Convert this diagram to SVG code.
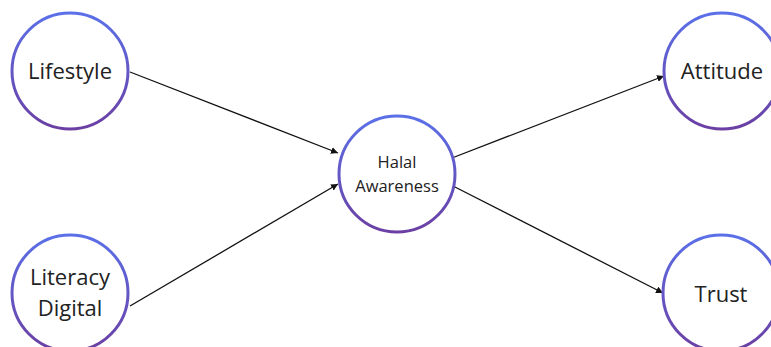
<svg xmlns="http://www.w3.org/2000/svg" width="771" height="347" viewBox="0 0 771 347">
<defs>
<linearGradient id="g" x1="0" y1="0" x2="0" y2="1">
<stop offset="0" stop-color="#5b70e8"/>
<stop offset="1" stop-color="#6b3fa3"/>
</linearGradient>
<marker id="ah" viewBox="0 0 10 10" refX="10" refY="5" markerWidth="7" markerHeight="7" markerUnits="userSpaceOnUse" orient="auto">
<path d="M0,0 L10,5 L0,10 z" fill="#111"/>
</marker>
<style>
.n{fill:#fff;stroke:url(#g);stroke-width:3}
.t{font-family:"Open Sans","Noto Sans",sans-serif;fill:#222;text-anchor:middle}
.b{font-size:22px}
.s{font-size:16.5px}
.c{stroke:#111;stroke-width:1.3;fill:none;marker-end:url(#ah)}
</style>
</defs>
<rect width="771" height="347" fill="#fff"/>
<g id="connectors">
<line class="c" x1="130" y1="72" x2="338" y2="153"/>
<line class="c" x1="130" y1="306" x2="338" y2="184"/>
<line class="c" x1="452" y1="158" x2="664" y2="76"/>
<line class="c" x1="453" y1="186" x2="663" y2="293"/>
</g>
<g id="lifestyle"><circle class="n" cx="70" cy="71" r="58"/><text class="t b" x="70" y="79">Lifestyle</text></g>
<g id="literacy"><circle class="n" cx="70" cy="293" r="58"/><text class="t b" x="70" y="285">Literacy</text><text class="t b" x="70" y="316">Digital</text></g>
<g id="halal"><circle class="n" cx="397" cy="174" r="58"/><text class="t s" x="397" y="168">Halal</text><text class="t s" x="397" y="192">Awareness</text></g>
<g id="attitude"><circle class="n" cx="722" cy="71" r="58"/><text class="t b" x="722" y="79">Attitude</text></g>
<g id="trust"><circle class="n" cx="721" cy="293" r="58"/><text class="t b" x="721" y="302">Trust</text></g>
</svg>
